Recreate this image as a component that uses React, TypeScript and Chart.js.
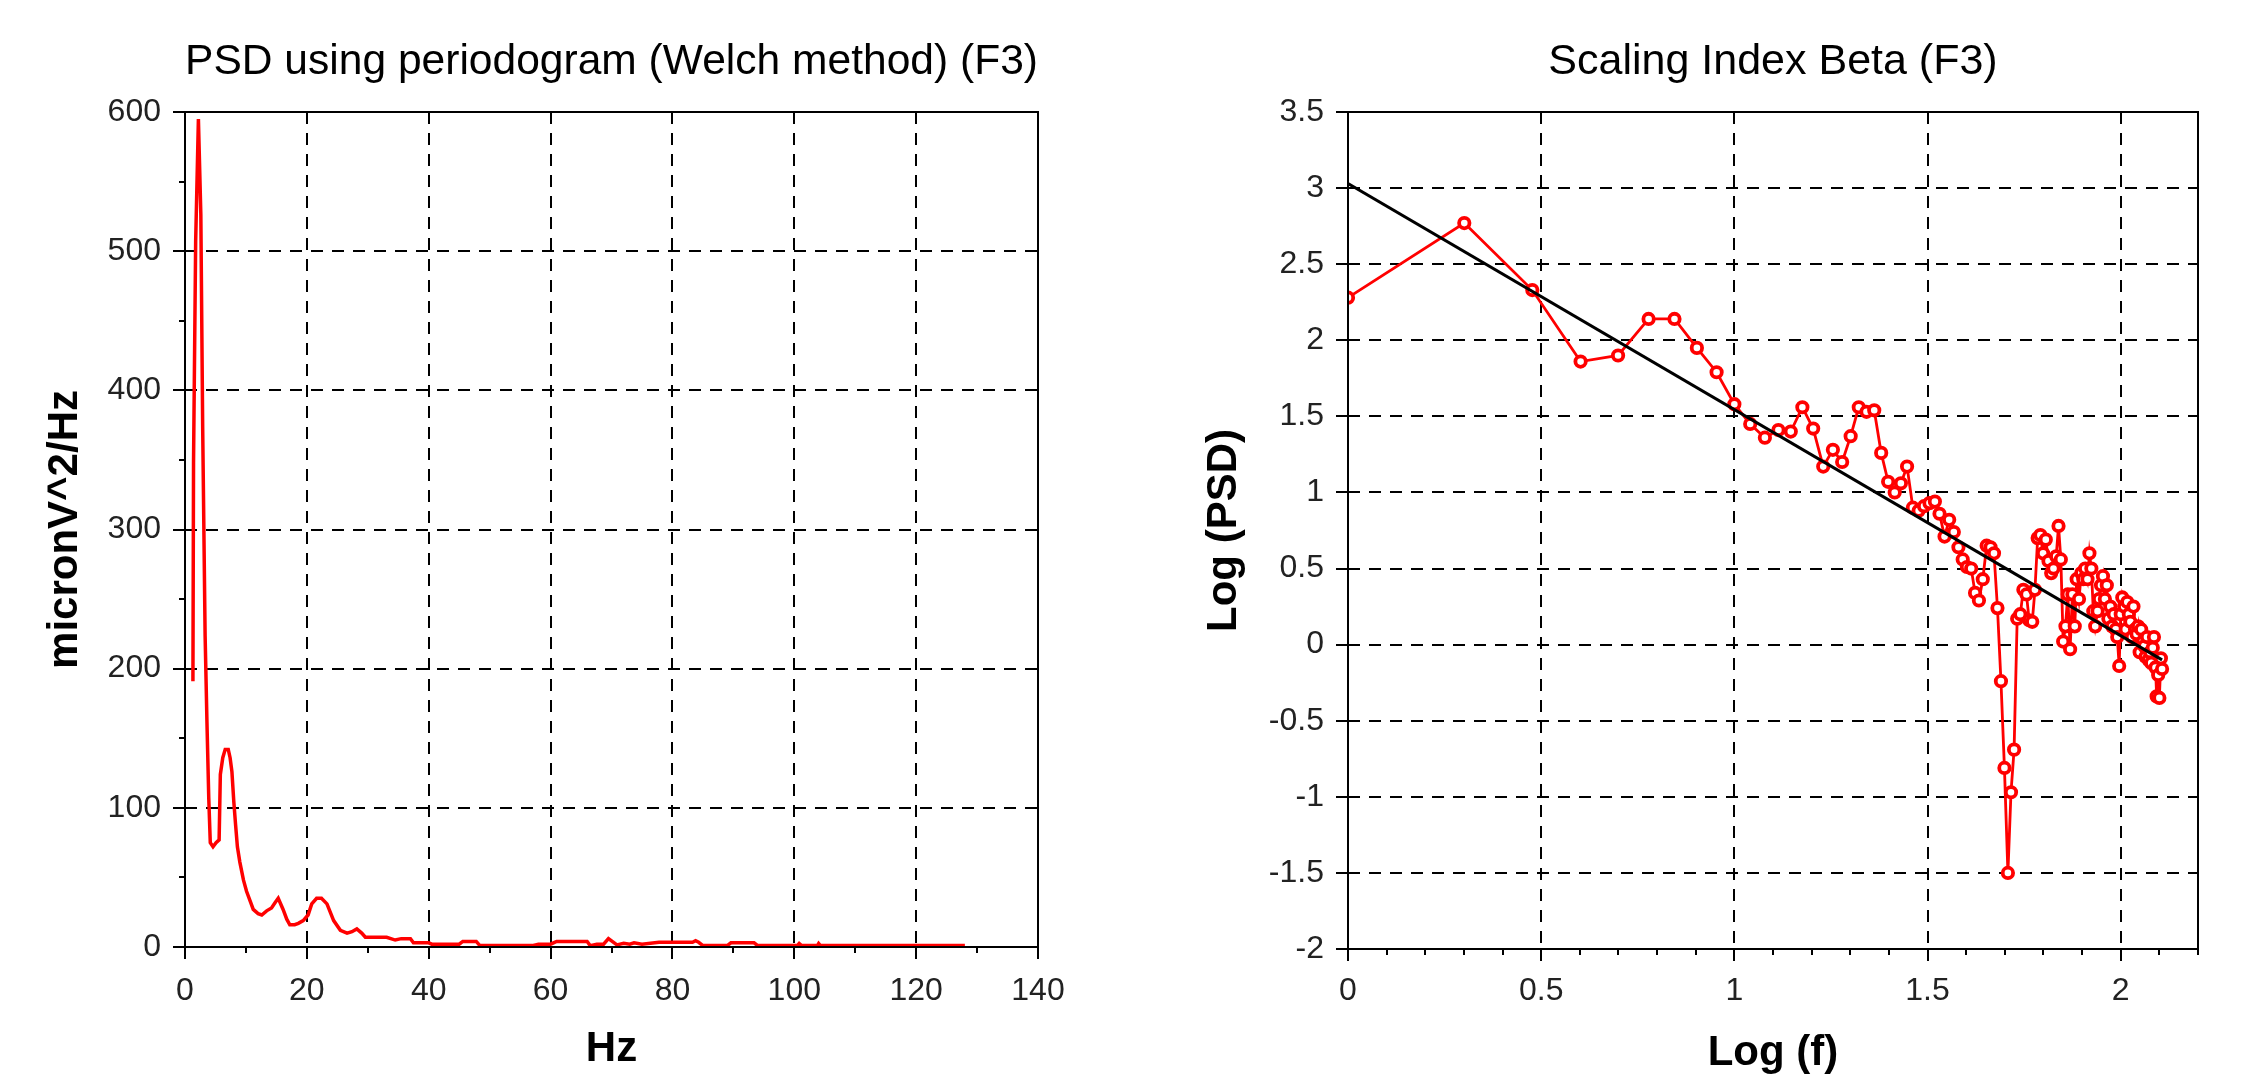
import { useEffect, useRef } from 'react';
import { Chart, registerables } from 'chart.js';

Chart.register(...registerables);

// ---------- Left chart: PSD (Welch) ----------
const psdFreq = [
  1.3, 1.4, 1.75, 2.2, 2.6, 2.9, 3.3, 3.6, 3.9, 4.15,
  4.6, 5.1, 5.6, 5.8, 6.2, 6.6, 7.1, 7.4, 7.7, 8.0,
  8.3, 8.6, 9.0, 9.6, 10.1, 10.7, 11.2, 12.0, 12.6, 13.4,
  14.2, 14.8, 15.3, 16.1, 16.7, 17.2, 18.0, 18.6, 19.4, 20.2,
  20.8, 21.6, 22.4, 23.3, 24.4, 25.5, 26.6, 27.4, 28.2, 29.0,
  29.6, 33.1, 34.5, 35.5, 37.0, 37.5, 40.0, 40.5, 45.0, 45.6,
  47.8, 48.4, 57.0, 58.0, 60.0, 61.0, 66.0, 66.5, 67.6, 68.7,
  69.5, 70.9, 72.0, 73.0, 73.7, 75.0, 77.8, 83.3, 83.8, 84.3,
  85.0, 89.0, 89.6, 93.4, 94.0, 100.5, 100.8, 101.2, 103.8, 104.0,
  104.3, 128.0,
];
const psdValue = [
  191, 348, 507, 595, 526, 374, 224, 162, 107, 75,
  72, 75, 77, 124, 136, 142, 142, 136, 126, 105,
  88, 72, 61, 48, 40, 33, 27, 24, 23, 26,
  28, 32, 35, 27, 20, 16, 16, 17, 19, 23,
  31, 35, 35, 31, 19, 12, 10, 11, 13, 10,
  7, 7, 5, 6, 6, 3, 3, 2, 2, 4,
  4, 1, 1, 2, 2, 4, 4, 1, 2, 2,
  6, 1.5, 2.6, 2, 3, 2, 3.4, 3.4, 4.5, 3.4,
  1, 1, 3, 3, 1, 1, 2.5, 1, 1, 2.5,
  1, 1,
];
const psdXTicks = [0, 20, 40, 60, 80, 100, 120, 140];
const psdXMinor = [10, 30, 50, 70, 90, 110, 130];
const psdYTicks = [0, 100, 200, 300, 400, 500, 600];
const psdYMinor = [50, 150, 250, 350, 450, 550];

// ---------- Right chart: Scaling index beta ----------
const logFreq = [
  0, 0.301, 0.477, 0.602, 0.699, 0.778, 0.845, 0.903, 0.954, 1,
  1.041, 1.079, 1.114, 1.146, 1.176, 1.204, 1.230, 1.255, 1.279, 1.301,
  1.322, 1.342, 1.362, 1.380, 1.398, 1.415, 1.431, 1.447, 1.462, 1.477,
  1.491, 1.505, 1.519, 1.531, 1.544, 1.556, 1.568, 1.580, 1.591, 1.602,
  1.613, 1.623, 1.633, 1.643, 1.653, 1.663, 1.672, 1.681, 1.690, 1.699,
  1.708, 1.716, 1.724, 1.732, 1.740, 1.748, 1.756, 1.763, 1.771, 1.778,
  1.785, 1.792, 1.799, 1.806, 1.813, 1.820, 1.826, 1.833, 1.839, 1.845,
  1.851, 1.857, 1.863, 1.869, 1.875, 1.881, 1.886, 1.892, 1.898, 1.903,
  1.908, 1.914, 1.919, 1.924, 1.929, 1.934, 1.940, 1.944, 1.949, 1.954,
  1.959, 1.964, 1.968, 1.973, 1.978, 1.982, 1.987, 1.991, 1.996, 2,
  2.004, 2.009, 2.013, 2.017, 2.021, 2.025, 2.029, 2.033, 2.037, 2.041,
  2.045, 2.049, 2.053, 2.057, 2.061, 2.064, 2.068, 2.072, 2.076, 2.079,
  2.083, 2.086, 2.090, 2.093, 2.097, 2.100, 2.104, 2.107,
];
const logPsd = [
  2.28, 2.77, 2.33, 1.86, 1.90, 2.14, 2.14, 1.95, 1.79, 1.58,
  1.45, 1.36, 1.41, 1.40, 1.56, 1.42, 1.17, 1.28, 1.20, 1.37,
  1.56, 1.53, 1.54, 1.26, 1.07, 1.00, 1.06, 1.17, 0.90, 0.88,
  0.91, 0.93, 0.94, 0.86, 0.71, 0.82, 0.74, 0.64, 0.56, 0.51,
  0.50, 0.34, 0.29, 0.43, 0.65, 0.64, 0.60, 0.24, -0.24, -0.81,
  -1.50, -0.97, -0.69, 0.17, 0.20, 0.36, 0.33, 0.16, 0.15, 0.36,
  0.70, 0.72, 0.60, 0.69, 0.55, 0.47, 0.50, 0.58, 0.78, 0.56,
  0.02, 0.12, 0.33, -0.03, 0.33, 0.12, 0.43, 0.30, 0.47, 0.43,
  0.50, 0.43, 0.60, 0.50, 0.22, 0.12, 0.22, 0.30, 0.39, 0.45,
  0.30, 0.39, 0.17, 0.25, 0.12, 0.20, 0.10, 0.05, -0.14, 0.20,
  0.31, 0.25, 0.10, 0.28, 0.20, 0.15, 0.05, 0.25, 0.10, 0.07,
  0.12, -0.05, 0.10, 0.02, -0.01, -0.08, 0.05, -0.10, -0.05, -0.12,
  -0.02, 0.05, -0.15, -0.34, -0.20, -0.35, -0.09, -0.16,
];
const fitLogFreq = [0, 2.107];
const fitLogPsd = [3.03, -0.10];
const betaXTicks = [0, 0.5, 1, 1.5, 2];
const betaXMinor = [0.1, 0.2, 0.3, 0.4, 0.6, 0.7, 0.8, 0.9, 1.1, 1.2, 1.3, 1.4, 1.6, 1.7, 1.8, 1.9, 2.1, 2.2];
const betaYTicks = [-2, -1.5, -1, -0.5, 0, 0.5, 1, 1.5, 2, 2.5, 3, 3.5];
const betaYMinor: number[] = [];

const FAMILY = "'Liberation Sans', Arial, Helvetica, sans-serif";
const TICK_FONT = { family: FAMILY, size: 32, lineHeight: 1 };
const TITLE_FONT = { family: FAMILY, size: 43, weight: 'normal' as const, lineHeight: 1 };
const AXIS_TITLE_FONT = { family: FAMILY, size: 42, weight: 'bold' as const, lineHeight: 1 };

function makeDecor(xMajor: number[], xMinor: number[], yMajor: number[], yMinor: number[]) {
  return {
    id: 'decor',
    beforeDatasetsDraw(chart: any) {
      const { ctx, chartArea: a } = chart;
      const xs = chart.scales.x;
      const ys = chart.scales.y;
      ctx.save();
      ctx.strokeStyle = '#000';
      ctx.lineWidth = 2;
      ctx.setLineDash([12, 9]);
      xMajor.forEach((v) => {
        const p = Math.round(xs.getPixelForValue(v));
        if (p - a.left < 3 || a.right - p < 3) return;
        ctx.beginPath();
        ctx.moveTo(p, a.top);
        ctx.lineTo(p, a.bottom);
        ctx.stroke();
      });
      yMajor.forEach((v) => {
        const p = Math.round(ys.getPixelForValue(v));
        if (p - a.top < 3 || a.bottom - p < 3) return;
        ctx.beginPath();
        ctx.moveTo(a.left, p);
        ctx.lineTo(a.right, p);
        ctx.stroke();
      });
      ctx.restore();
    },
    afterDatasetsDraw(chart: any) {
      const { ctx, chartArea: a } = chart;
      const xs = chart.scales.x;
      const ys = chart.scales.y;
      ctx.save();
      ctx.strokeStyle = '#000';
      ctx.lineWidth = 2;
      ctx.setLineDash([]);
      ctx.strokeRect(a.left, a.top, a.right - a.left, a.bottom - a.top);
      const tick = (x1: number, y1: number, x2: number, y2: number) => {
        ctx.beginPath();
        ctx.moveTo(x1, y1);
        ctx.lineTo(x2, y2);
        ctx.stroke();
      };
      xMajor.forEach((v) => {
        const p = Math.round(xs.getPixelForValue(v));
        tick(p, a.bottom, p, a.bottom + 12);
      });
      xMinor.forEach((v) => {
        const p = Math.round(xs.getPixelForValue(v));
        tick(p, a.bottom, p, a.bottom + 6);
      });
      yMajor.forEach((v) => {
        const p = Math.round(ys.getPixelForValue(v));
        tick(a.left, p, a.left - 12, p);
      });
      yMinor.forEach((v) => {
        const p = Math.round(ys.getPixelForValue(v));
        tick(a.left, p, a.left - 6, p);
      });
      ctx.restore();
    },
  };
}

function baseScale(opts: any) {
  return {
    type: 'linear',
    min: opts.min,
    max: opts.max,
    afterBuildTicks: (s: any) => {
      s.ticks = opts.ticks.map((v: number) => ({ value: v }));
    },
    afterFit: opts.afterFit,
    grid: { display: false, drawTicks: false },
    border: { display: false },
    ticks: {
      font: TICK_FONT,
      color: '#222',
      padding: opts.padding,
      maxRotation: 0,
      minRotation: 0,
      autoSkip: false,
      callback: (v: any) => String(v),
    },
    title: {
      display: true,
      text: opts.title,
      color: '#000',
      font: AXIS_TITLE_FONT,
      padding: opts.titlePadding,
    },
  };
}

function App() {
  const leftRef = useRef<HTMLCanvasElement | null>(null);
  const rightRef = useRef<HTMLCanvasElement | null>(null);

  useEffect(() => {
    const left = new Chart(leftRef.current as HTMLCanvasElement, {
      type: 'line',
      data: {
        datasets: [
          {
            data: psdFreq.map((f, i) => ({ x: f, y: psdValue[i] })),
            borderColor: '#ff0000',
            borderWidth: 3.5,
            pointRadius: 0,
            tension: 0,
            fill: false,
          },
        ],
      },
      options: {
        responsive: false,
        animation: false,
        devicePixelRatio: 1,
        layout: { autoPadding: false, padding: { left: 0, top: 0, right: 82, bottom: 0 } },
        plugins: {
          legend: { display: false },
          tooltip: { enabled: false },
          title: {
            display: true,
            text: 'PSD using periodogram (Welch method) (F3)',
            fullSize: false,
            color: '#000',
            font: TITLE_FONT,
            padding: { top: 41, bottom: 28 },
          },
        },
        scales: {
          x: baseScale({
            min: 0, max: 140, ticks: psdXTicks, padding: 28, title: 'Hz',
            titlePadding: { top: 0, bottom: 4 },
            afterFit: (s: any) => { s.height = 127; },
          }),
          y: baseScale({
            min: 0, max: 600, ticks: psdYTicks, padding: 24, title: 'micronV^2/Hz',
            titlePadding: { top: 44, bottom: 0 },
            afterFit: (s: any) => { s.width = 185; },
          }),
        },
      } as any,
      plugins: [makeDecor(psdXTicks, psdXMinor, psdYTicks, psdYMinor)],
    });

    const right = new Chart(rightRef.current as HTMLCanvasElement, {
      type: 'line',
      data: {
        datasets: [
          {
            data: fitLogFreq.map((f, i) => ({ x: f, y: fitLogPsd[i] })),
            borderColor: '#000',
            borderWidth: 3,
            pointRadius: 0,
            tension: 0,
            fill: false,
            order: 0,
          },
          {
            data: logFreq.map((f, i) => ({ x: f, y: logPsd[i] })),
            borderColor: '#ff0000',
            borderWidth: 2.8,
            pointRadius: 5.2,
            pointBorderWidth: 3.8,
            pointBorderColor: '#ff0000',
            pointBackgroundColor: '#ffffff',
            pointStyle: 'circle',
            tension: 0,
            fill: false,
            order: 1,
          },
        ],
      },
      options: {
        responsive: false,
        animation: false,
        devicePixelRatio: 1,
        layout: { autoPadding: false, padding: { left: 0, top: 0, right: 47, bottom: 0 } },
        plugins: {
          legend: { display: false },
          tooltip: { enabled: false },
          title: {
            display: true,
            text: 'Scaling Index Beta (F3)',
            fullSize: false,
            color: '#000',
            font: TITLE_FONT,
            padding: { top: 41, bottom: 28 },
          },
        },
        scales: {
          x: baseScale({
            min: 0, max: 2.2, ticks: betaXTicks, padding: 26, title: 'Log (f)',
            titlePadding: { top: 0, bottom: 0 },
            afterFit: (s: any) => { s.height = 125; },
          }),
          y: baseScale({
            min: -2, max: 3.5, ticks: betaYTicks, padding: 24, title: 'Log (PSD)',
            titlePadding: { top: 83, bottom: 0 },
            afterFit: (s: any) => { s.width = 228; },
          }),
        },
      } as any,
      plugins: [makeDecor(betaXTicks, betaXMinor, betaYTicks, betaYMinor)],
    });

    return () => {
      left.destroy();
      right.destroy();
    };
  }, []);

  return (
    <div style={{ position: 'absolute', left: 0, top: 0, width: 2245, height: 1074, background: '#fff', overflow: 'hidden' }}>
      <canvas ref={leftRef} width={1120} height={1074} style={{ position: 'absolute', left: 0, top: 0, width: 1120, height: 1074 }} />
      <canvas ref={rightRef} width={1125} height={1074} style={{ position: 'absolute', left: 1120, top: 0, width: 1125, height: 1074 }} />
    </div>
  );
}

export default App;
